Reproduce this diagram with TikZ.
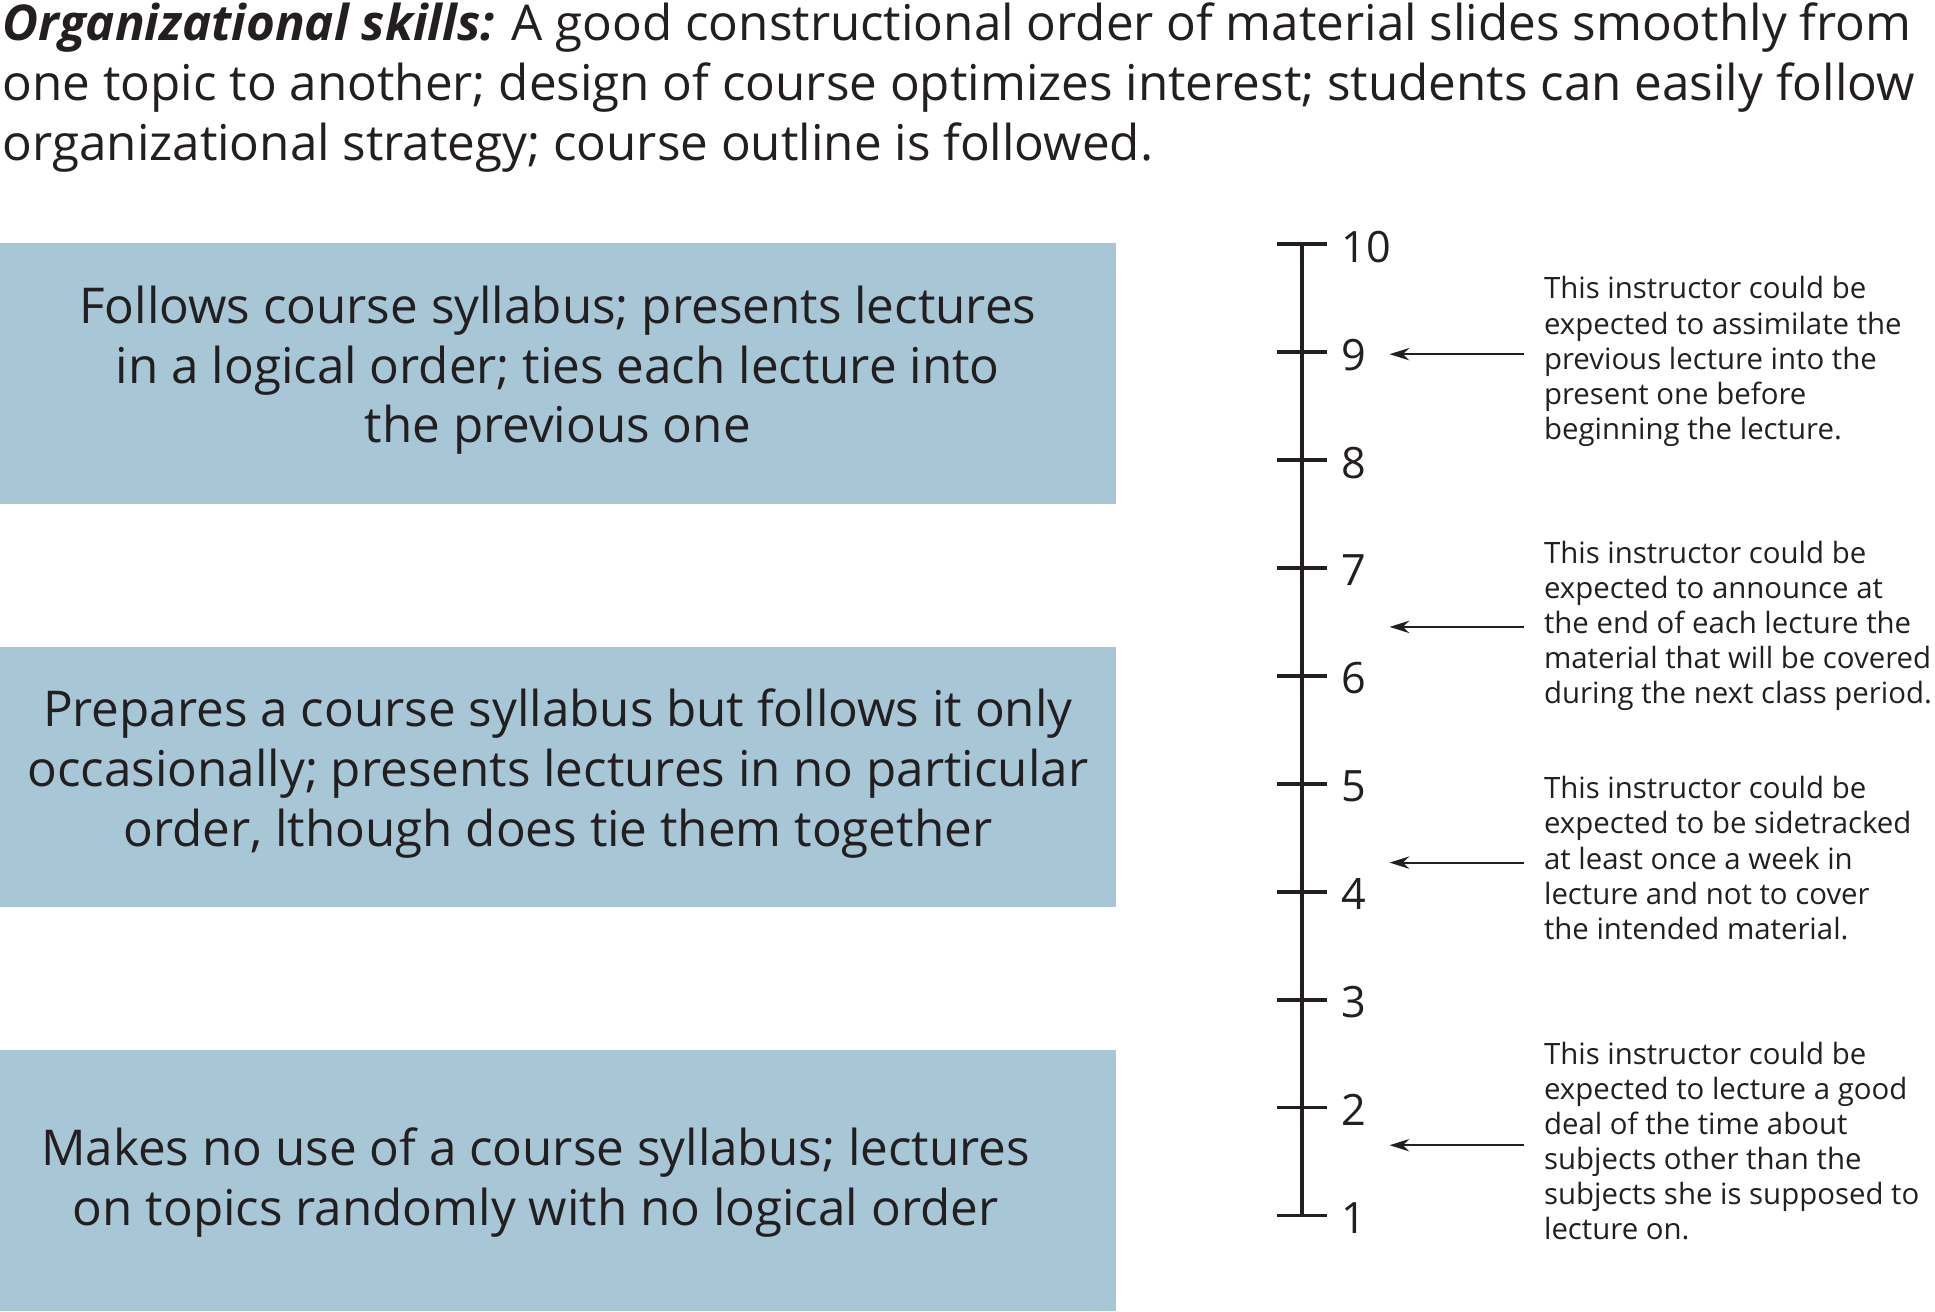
\documentclass[tikz,border=0pt]{standalone}
\usepackage{fontspec}
\setmainfont{Open Sans}
\usetikzlibrary{arrows.meta}
\definecolor{boxblue}{HTML}{A7C6D6}
\definecolor{ink}{HTML}{231F20}
\begin{document}
\begin{tikzpicture}[x=1pt,y=-1pt,
  bx/.style={fill=boxblue,draw=none},
  btxt/.style={align=center,text=ink,font=\fontsize{40}{48.5}\selectfont},
  rtxt/.style={align=left,anchor=north west,text=ink,font=\fontsize{23.8}{28.5}\selectfont,inner sep=0},
  num/.style={anchor=west,text=ink,font=\fontsize{35}{40}\selectfont,inner sep=0},
  arr/.style={-{Stealth[length=16pt,width=10pt]},line width=1.6pt,ink}]
\useasboundingbox (0,0) rectangle (1568,1063);
\node[anchor=north west,inner sep=0,text=ink,align=left,font=\fontsize{40}{48.5}\selectfont] (title) at (2,2)
{\textbf{\textit{Organizational skills:}} A good constructional order of material slides smoothly from\\one topic to another; design of course optimizes interest; students can easily follow\\organizational strategy; course outline is followed.};
\fill[bx] (0,197) rectangle (904,408);
\fill[bx] (0,524) rectangle (904,735);
\fill[bx] (0,851) rectangle (904,1062);
\node[btxt] (b1) at (452,300) {Follows course syllabus; presents lectures\\in a logical order; ties each lecture into\\the previous one};
\node[btxt] (b2) at (452,627) {Prepares a course syllabus but follows it only\\occasionally; presents lectures in no particular\\order, lthough does tie them together};
\node[btxt] (b3) at (434,958) {Makes no use of a course syllabus; lectures\\on topics randomly with no logical order};
\coordinate (top) at (1055,198);
\coordinate (bot) at (1055,985);
\draw[line width=3pt,ink] (top) -- (bot);
\foreach \n in {1,...,10}{
  \pgfmathsetmacro{\yy}{198+(10-\n)*87.44}
  \draw[line width=3pt,ink] (1035,\yy) -- (1075,\yy);
  \node[num] (n\n) at (1087,\yy+2) {\n};
}
\foreach \i/\yy in {a/287,b/508,c/699,d/928}{
  \coordinate (s\i) at (1235,\yy);
  \coordinate (e\i) at (1126,\yy);
  \draw[arr] (s\i) -- (e\i);
}
\node[rtxt] (t1) at (1251,224) {This instructor could be\\expected to assimilate the\\previous lecture into the\\present one before\\beginning the lecture.};
\node[rtxt] (t2) at (1251,438) {This instructor could be\\expected to announce at\\the end of each lecture the\\material that will be covered\\during the next class period.};
\node[rtxt] (t3) at (1251,629) {This instructor could be\\expected to be sidetracked\\at least once a week in\\lecture and not to cover\\the intended material.};
\node[rtxt] (t4) at (1251,844) {This instructor could be\\expected to lecture a good\\deal of the time about\\subjects other than the\\subjects she is supposed to\\lecture on.};
\end{tikzpicture}
\end{document}
